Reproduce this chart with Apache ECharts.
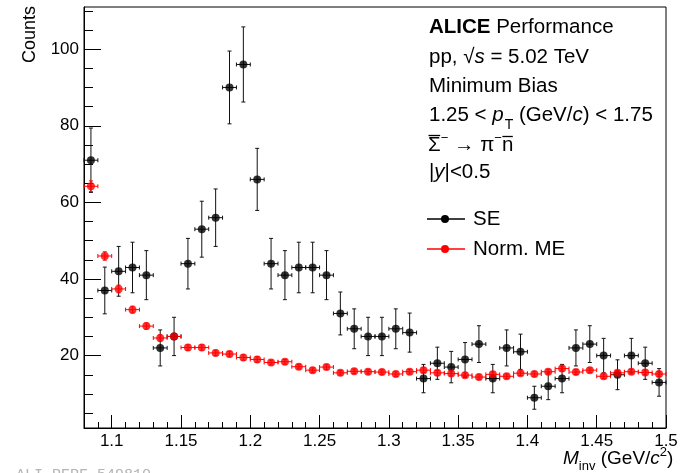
<!DOCTYPE html>
<html>
<head>
<meta charset="utf-8">
<script src="https://cdn.jsdelivr.net/npm/echarts@6.0.0/dist/echarts.min.js"></script>
<style>
  html, body { margin: 0; padding: 0; background: #fff; }
  #chart { width: 688px; height: 473px; }
</style>
</head>
<body>
<div id="chart"></div>
<script>
// bin centres, M_inv (GeV/c^2)
const mInv = [1.085, 1.095, 1.105, 1.115, 1.125, 1.135, 1.145, 1.155, 1.165, 1.175, 1.185, 1.195,
  1.205, 1.215, 1.225, 1.235, 1.245, 1.255, 1.265, 1.275, 1.285, 1.295,
  1.305, 1.315, 1.325, 1.335, 1.345, 1.355, 1.365, 1.375, 1.385, 1.395,
  1.405, 1.415, 1.425, 1.435, 1.445, 1.455, 1.465, 1.475, 1.485, 1.495]

// same event (SE)
const seCounts = [71, 37, 42, 43, 41, 22, 25, 44, 53, 56, 90, 96,
  66, 44, 41, 43, 43, 41, 31, 27, 25, 25,
  27, 26, 14, 18, 17, 19, 23, 14, 22, 21,
  9, 12, 14, 22, 23, 20, 15, 20, 18, 13]
const seErr = [8.4, 6.1, 6.5, 6.6, 6.4, 4.7, 5.0, 6.6, 7.3, 7.5, 9.5, 9.8,
  8.1, 6.6, 6.4, 6.6, 6.6, 6.4, 5.6, 5.2, 5.0, 5.0,
  5.2, 5.1, 3.7, 4.2, 4.1, 4.4, 4.8, 3.7, 4.7, 4.6,
  3.0, 3.5, 3.7, 4.7, 4.8, 4.5, 3.9, 4.5, 4.2, 3.6]

// normalised mixed event (Norm. ME)
const meCounts = [64.2, 46.0, 37.4, 32.0, 27.7, 24.6, 25.0, 22.1, 22.1, 20.7, 20.4, 19.5,
  19.0, 18.2, 18.4, 17.1, 16.2, 17.0, 15.5, 15.9, 15.8, 15.7,
  15.2, 15.8, 16.2, 15.5, 15.3, 14.9, 14.4, 15.1, 14.6, 15.4,
  15.2, 15.8, 16.6, 15.7, 16.2, 14.6, 15.5, 15.8, 15.6, 15.2]
const meErr = [1.4, 1.1, 1.0, 0.9, 0.8, 0.8, 0.8, 0.7, 0.7, 0.7, 0.7, 0.7,
  0.7, 0.6, 0.6, 0.6, 0.6, 0.6, 0.6, 0.6, 0.6, 0.6,
  0.6, 0.6, 0.6, 0.6, 0.6, 0.6, 0.6, 0.6, 0.6, 0.6,
  0.6, 0.6, 0.6, 0.6, 0.6, 0.6, 0.6, 0.6, 0.6, 0.6]

const xMajor = [1.1, 1.15, 1.2, 1.25, 1.3, 1.35, 1.4, 1.45, 1.5]
const yMajor = [20, 40, 60, 80, 100]
const yMinor = [5, 10, 15, 20, 25, 30, 35, 40, 45, 50, 55, 60, 65, 70, 75, 80, 85, 90, 95, 100, 105, 110]

const FONT = '"Liberation Sans", Arial, Helvetica, sans-serif'
const TS = 20.5 // text size of the info box
const halfBin = (mInv[1] - mInv[0]) / 2

const chart = echarts.init(document.getElementById('chart'))

// error bars: horizontal = bin width, vertical = stat. error, with small end marks
function errorBars(color) {
  return function (params, api) {
    const x = api.value(0)
    const y = api.value(1)
    const e = api.value(2)
    const l = api.coord([x - halfBin, y])
    const r = api.coord([x + halfBin, y])
    const t = api.coord([x, y + e])
    const b = api.coord([x, y - e])
    const st = { stroke: color, lineWidth: 1 }
    const ln = (x1, y1, x2, y2) => ({ type: 'line', shape: { x1, y1, x2, y2 }, style: st })
    return {
      type: 'group',
      children: [
        ln(l[0], l[1], r[0], r[1]),
        ln(l[0], l[1] - 2, l[0], l[1] + 2),
        ln(r[0], r[1] - 2, r[0], r[1] + 2),
        ln(t[0], t[1], b[0], b[1]),
        ln(t[0] - 2, t[1], t[0] + 2, t[1]),
        ln(b[0] - 2, b[1], b[0] + 2, b[1])
      ]
    }
  }
}

// text made of runs (italic / sub / superscript) measured with canvas
const mctx = document.createElement('canvas').getContext('2d')
function runs(x, y, parts) {
  let cx = x
  const out = []
  parts.forEach(p => {
    const size = p.size || TS
    const italic = p.i ? 'italic' : 'normal'
    const weight = p.b ? 'bold' : 'normal'
    mctx.font = italic + ' ' + weight + ' ' + size + 'px ' + FONT
    cx += p.dx || 0
    const w = mctx.measureText(p.t).width
    out.push({
      type: 'text', x: cx, y: y + (p.dy || 0), z: 100,
      style: {
        text: p.t, fill: p.c || '#000', fontSize: size, fontFamily: FONT,
        fontStyle: italic, fontWeight: weight, verticalAlign: 'middle', align: 'left'
      }
    })
    if (p.over) {
      const oy = y + p.over
      out.push({ type: 'line', z: 100, shape: { x1: cx + 0.5, y1: oy, x2: cx + w - 0.5, y2: oy }, style: { stroke: '#000', lineWidth: 1.3 } })
    }
    cx += w
  })
  return out
}

const tx = 429
const graphics = [].concat(
  runs(tx, 27, [{ t: 'ALICE', b: 1 }, { t: ' Performance' }]),
  runs(tx, 57, [{ t: 'pp, √' }, { t: 's', i: 1 }, { t: ' = 5.02 TeV' }]),
  runs(tx, 86, [{ t: 'Minimum Bias' }]),
  runs(tx, 115, [{ t: '1.25 < ' }, { t: 'p', i: 1 }, { t: 'T', size: 14, dy: 10, dx: 1 },
    { t: ' (GeV/' }, { t: 'c', i: 1 }, { t: ') < 1.75' }]),
  runs(tx - 1, 145, [{ t: 'Σ', over: -9.5 }, { t: '−', size: 13, dy: -7 }, { t: ' → π' },
    { t: '−', size: 13, dy: -7 }, { t: 'n', over: -8.5 }]),
  runs(tx, 172.5, [{ t: '|' }, { t: 'y', i: 1 }, { t: '|<0.5' }]),
  [
    { type: 'line', z: 100, shape: { x1: 427, y1: 219, x2: 465, y2: 219 }, style: { stroke: '#000', lineWidth: 1.3 } },
    { type: 'circle', z: 100, shape: { cx: 445, cy: 219, r: 4 }, style: { fill: '#000' } },
    { type: 'line', z: 100, shape: { x1: 427, y1: 249, x2: 465, y2: 249 }, style: { stroke: '#f00', lineWidth: 1.5 } },
    { type: 'circle', z: 100, shape: { cx: 445, cy: 249, r: 4 }, style: { fill: '#f00' } }
  ],
  runs(473, 219, [{ t: 'SE' }]),
  runs(473, 249, [{ t: 'Norm. ME' }]),
  // axis titles
  runs(563, 459, [{ t: 'M', i: 1, size: 19 }, { t: 'inv', size: 13, dy: 7 }, { t: ' (GeV/', size: 19 },
    { t: 'c', i: 1, size: 19 }, { t: '2', size: 13, dy: -7 }, { t: ')', size: 19 }]),
  [
    {
      type: 'text', x: 30, y: 6, rotation: Math.PI / 2,
      style: { text: 'Counts', fontSize: 18, fontFamily: FONT, fill: '#000', align: 'right', verticalAlign: 'middle' }
    },
    {
      type: 'text', x: 16, y: 468,
      style: { text: 'ALI-PERF-549810', fontSize: 15, fontFamily: '"Liberation Mono", monospace', fill: '#b4b4b4', align: 'left', verticalAlign: 'top' }
    }
  ]
)

const seData = mInv.map((x, i) => [x, seCounts[i], seErr[i]])
const meData = mInv.map((x, i) => [x, meCounts[i], meErr[i]])

chart.setOption({
  animation: false,
  backgroundColor: '#fff',
  grid: {
    left: 84, right: 22, top: 7, bottom: 45,
    show: true, borderColor: '#000', borderWidth: 1
  },
  xAxis: [
    {
      type: 'value', min: 1.08, max: 1.5, interval: 0.01,
      axisLine: { show: true, onZero: false, lineStyle: { color: '#000', width: 1 } },
      axisTick: { show: true, inside: true, length: 6, lineStyle: { color: '#000' } },
      axisLabel: { show: false },
      splitLine: { show: false }
    },
    {
      type: 'value', min: 1.08, max: 1.5, position: 'bottom',
      axisLine: { show: false, onZero: false },
      axisTick: { show: true, inside: true, length: 13, customValues: xMajor, lineStyle: { color: '#000' } },
      axisLabel: {
        show: true, customValues: xMajor, margin: 5, color: '#000',
        fontSize: 17, fontFamily: FONT, formatter: v => String(+v.toFixed(2))
      },
      splitLine: { show: false }
    }
  ],
  yAxis: [
    {
      type: 'value', min: 1.1, max: 111, position: 'left',
      axisLine: { show: true, onZero: false, lineStyle: { color: '#000', width: 1 } },
      axisTick: { show: true, inside: true, length: 9, customValues: yMinor, lineStyle: { color: '#000' } },
      axisLabel: { show: false },
      splitLine: { show: false }
    },
    {
      type: 'value', min: 1.1, max: 111, position: 'left',
      axisLine: { show: false, onZero: false },
      axisTick: { show: true, inside: true, length: 17, customValues: yMajor, lineStyle: { color: '#000' } },
      axisLabel: {
        show: true, customValues: yMajor, margin: 5, color: '#000',
        fontSize: 17, fontFamily: FONT
      },
      splitLine: { show: false }
    }
  ],
  series: [
    {
      name: 'SE err', type: 'custom', renderItem: errorBars('#111'),
      data: seData, encode: { x: 0, y: 1 }, silent: true
    },
    {
      name: 'SE', type: 'scatter', data: seData, symbol: 'circle', symbolSize: 8,
      itemStyle: { color: '#000' }
    },
    {
      name: 'ME err', type: 'custom', renderItem: errorBars('#f00'),
      data: meData, encode: { x: 0, y: 1 }, silent: true
    },
    {
      name: 'Norm. ME', type: 'scatter', data: meData, symbol: 'circle', symbolSize: 8,
      itemStyle: { color: '#f00' }
    }
  ],
  graphic: graphics
})
</script>
</body>
</html>
